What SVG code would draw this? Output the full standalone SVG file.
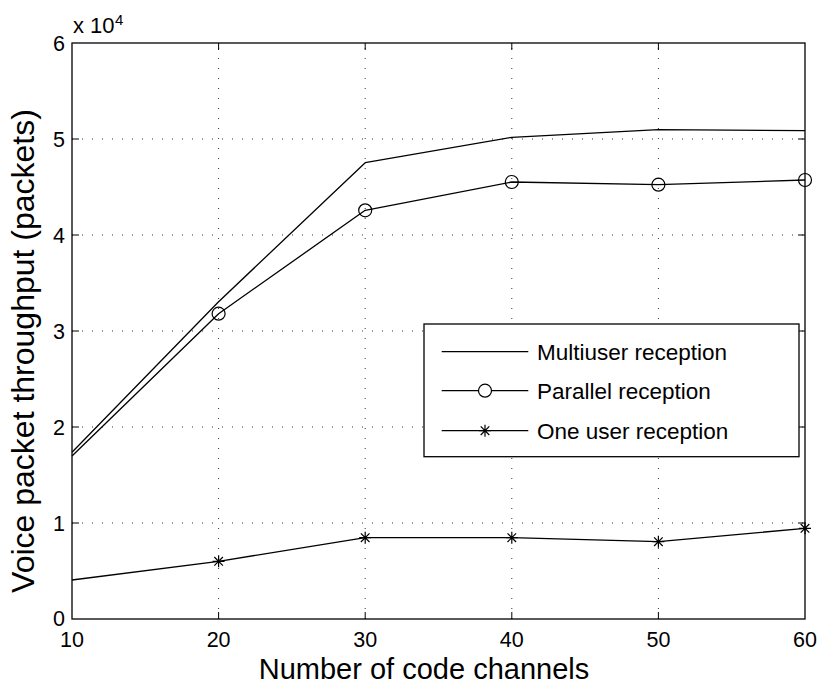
<svg xmlns="http://www.w3.org/2000/svg" xmlns:xlink="http://www.w3.org/1999/xlink" width="820" height="689" viewBox="0 0 820 689">
  <style>
    text { font-family: "Liberation Sans", Arial, Helvetica, sans-serif; fill: #000; }
    .tick { font-size: 21.5px; }
    .grid { stroke: #333; stroke-width: 1; stroke-dasharray: 1 9; fill: none; }
    .axis { stroke: #000; stroke-width: 1.3; fill: none; }
    .tk { stroke: #000; stroke-width: 1; }
    .series { stroke: #000; stroke-width: 1.3; fill: none; stroke-linejoin: round; }
    .mk { stroke: #000; stroke-width: 1.2; fill: none; }
    .legtext { font-size: 22.5px; }
  </style>
  <defs>
    <circle id="m-circle" r="6.5" class="mk"/>
    <path id="m-star" class="mk" d="M-6,0H6M0,-6V6M-4.3,-4.3L4.3,4.3M-4.3,4.3L4.3,-4.3"/>
  </defs>

  <rect width="820" height="689" fill="#fff"/>

  <!-- grid -->
  <g id="grid">
    <path class="grid" d="M218.6,619V43M365.2,619V43M511.8,619V43M658.4,619V43"/>
    <path class="grid" d="M72,523H805M72,427H805M72,331H805M72,235H805M72,139H805"/>
  </g>

  <!-- axes box and ticks -->
  <g id="axes">
    <rect class="axis" x="72" y="43" width="733" height="576"/>
    <path class="tk" d="M218.6,619v-7M365.2,619v-7M511.8,619v-7M658.4,619v-7
                        M218.6,43v7M365.2,43v7M511.8,43v7M658.4,43v7
                        M72,523h7M72,427h7M72,331h7M72,235h7M72,139h7
                        M805,523h-7M805,427h-7M805,331h-7M805,235h-7M805,139h-7"/>
  </g>

  <!-- tick labels -->
  <g id="ytick-labels" class="tick" text-anchor="end">
    <text x="65" y="625.5">0</text>
    <text x="65" y="531">1</text>
    <text x="65" y="435">2</text>
    <text x="65" y="339">3</text>
    <text x="65" y="243">4</text>
    <text x="65" y="147">5</text>
    <text x="65" y="51">6</text>
  </g>
  <g id="xtick-labels" class="tick" text-anchor="middle">
    <text x="72" y="647">10</text>
    <text x="218.6" y="647">20</text>
    <text x="365.2" y="647">30</text>
    <text x="511.8" y="647">40</text>
    <text x="658.4" y="647">50</text>
    <text x="805" y="647">60</text>
  </g>
  <g id="exponent">
    <text x="73" y="33" font-size="22">x 10</text>
    <text x="115" y="25" font-size="15">4</text>
  </g>

  <!-- axis labels -->
  <text id="xlabel" x="424" y="679" font-size="29" text-anchor="middle">Number of code channels</text>
  <text id="ylabel" transform="translate(34,351) rotate(-90)" font-size="32" text-anchor="middle">Voice packet throughput (packets)</text>

  <!-- data series -->
  <g id="connectors">
    <polyline id="multiuser" class="series" points="72,452.3 218.6,301.7 365.2,162.7 511.8,137.3 658.4,129.7 805,130.7"/>
    <polyline id="parallel" class="series" points="72,456 218.6,313.7 365.2,210.3 511.8,182 658.4,184.7 805,180"/>
    <polyline id="oneuser" class="series" points="72,580 218.6,561.3 365.2,537.7 511.8,537.7 658.4,541.7 805,528.3"/>
  </g>

  <g id="parallel-markers">
    <use xlink:href="#m-circle" x="218.6" y="313.7"/>
    <use xlink:href="#m-circle" x="365.2" y="210.3"/>
    <use xlink:href="#m-circle" x="511.8" y="182"/>
    <use xlink:href="#m-circle" x="658.4" y="184.7"/>
    <use xlink:href="#m-circle" x="805" y="180"/>
  </g>
  <g id="oneuser-markers">
    <use xlink:href="#m-star" x="218.6" y="561.3"/>
    <use xlink:href="#m-star" x="365.2" y="537.7"/>
    <use xlink:href="#m-star" x="511.8" y="537.7"/>
    <use xlink:href="#m-star" x="658.4" y="541.7"/>
    <use xlink:href="#m-star" x="805" y="528.3"/>
  </g>

  <!-- legend -->
  <g id="legend">
    <rect x="424" y="324" width="375" height="132.7" fill="#fff" stroke="#000" stroke-width="1.3"/>
    <path class="series" d="M441.7,351.7H528.3M441.7,390.7H528.3M441.7,430.7H528.3"/>
    <circle cx="485" cy="390.7" r="6.5" fill="#fff" stroke="#000" stroke-width="1.2"/>
    <use xlink:href="#m-star" x="485" y="430.7"/>
    <g class="legtext">
      <text x="537" y="359.5">Multiuser reception</text>
      <text x="537" y="398.5">Parallel reception</text>
      <text x="537" y="438.5">One user reception</text>
    </g>
  </g>
</svg>
